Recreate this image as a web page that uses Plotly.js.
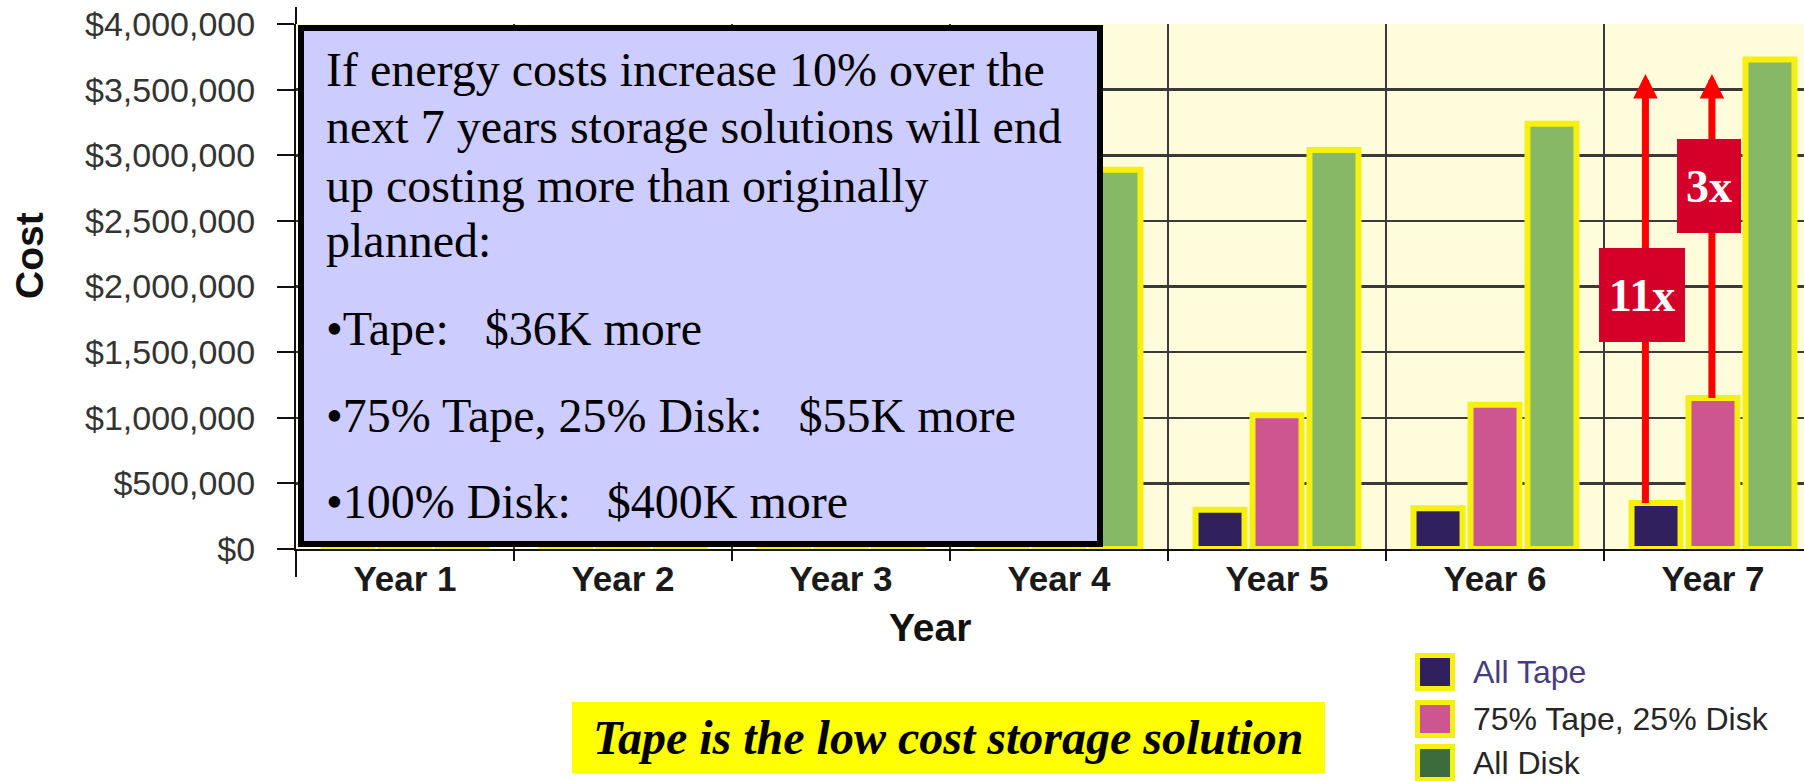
<!DOCTYPE html>
<html>
<head>
<meta charset="utf-8">
<script src="https://cdn.plot.ly/plotly-3.0.1.min.js"></script>
<style>
  html, body { margin: 0; padding: 0; background: #ffffff; }
  #chart { width: 1804px; height: 781px; }
</style>
</head>
<body>
<div id="chart"></div>
<script>
// ---------------- data ----------------
const years = ["Year 1", "Year 2", "Year 3", "Year 4", "Year 5", "Year 6", "Year 7"];
const seriesNames = ["All Tape", "75% Tape, 25% Disk", "All Disk"];
const allTape  = [205000, 225000, 250000, 275000, 300000, 310000, 350000];
const mixTape  = [790000, 860000, 920000, 965000, 1020000, 1100000, 1150000];
const allDisk  = [2350000, 2520000, 2700000, 2890000, 3040000, 3240000, 3730000];

const boxLines = [
  "If energy costs increase 10% over the",
  "next 7 years storage solutions will end",
  "up costing more than originally",
  "planned:",
  "\u2022Tape:\u00a0\u00a0\u00a0$36K more",
  "\u202275% Tape, 25% Disk:\u00a0\u00a0\u00a0$55K more",
  "\u2022100% Disk:\u00a0\u00a0\u00a0$400K more"
];
const calloutText = "Tape is the low cost storage solution";
const multiplierLabels = ["11x", "3x"];
const axisTitles = { x: "Year", y: "Cost" };

// ---------------- layout helpers ----------------
const W = 1804, H = 781;
const ML = 296, MR = 0, MT = 24, MB = 232;
const PW = W - ML - MR, PH = H - MT - MB;
const CAT_W = 218;
const px = x => (x - ML) / PW;
const py = y => (H - MB - y) / PH;

const barColors = ["#30205e", "#cd5690", "#86b865"];
const legendColors = ["#30205e", "#cd5690", "#3c6b3c"];
const outline = "#f5f00f";
const values = [allTape, mixTape, allDisk];

const traces = seriesNames.map((name, i) => ({
  type: "bar",
  name: name,
  x: years,
  y: values[i],
  marker: { color: barColors[i], line: { color: outline, width: 6 } },
  showlegend: false,
  hoverinfo: "skip"
}));

const shapes = [];
const annotations = [];

// extended y-axis line above and below the plot
shapes.push({ type: "line", xref: "paper", yref: "paper", x0: 0, x1: 0, y0: 1, y1: py(7), line: { color: "#111", width: 2 } });
shapes.push({ type: "line", xref: "paper", yref: "paper", x0: 0, x1: 0, y0: 0, y1: py(577), line: { color: "#111", width: 2 } });

// arrows (drawn first so label boxes cover them)
const lastIdx = years.length - 1;
const arrowTip = 3620000;
const arrowSpecs = [
  { x: lastIdx - 0.31, from: allTape[lastIdx] - 10000 },
  { x: lastIdx - 0.005, from: mixTape[lastIdx] - 10000 }
];
arrowSpecs.forEach(a => {
  annotations.push({
    xref: "x", yref: "y", axref: "x", ayref: "y",
    x: a.x, y: arrowTip, ax: a.x, ay: a.from,
    text: "", showarrow: true, arrowhead: 2, arrowsize: 0.7,
    arrowwidth: 7, arrowcolor: "#ff0000", standoff: 0, startstandoff: 0
  });
});

// red multiplier labels
const labelBoxes = [
  { cx: 1642, cy: 295, w: 86, h: 94 },
  { cx: 1709, cy: 186, w: 64, h: 94 }
];
multiplierLabels.forEach((t, i) => {
  const b = labelBoxes[i];
  annotations.push({
    xref: "paper", yref: "paper", x: px(b.cx), y: py(b.cy),
    xanchor: "center", yanchor: "middle",
    text: "<b>" + t + "</b>", showarrow: false,
    width: b.w, height: b.h, bgcolor: "#d50029", borderpad: 0, borderwidth: 0,
    font: { family: "Liberation Serif, Times New Roman, serif", size: 46, color: "#ffffff" }
  });
});

// big lavender text box
shapes.push({
  type: "rect", xref: "paper", yref: "paper", layer: "above",
  x0: px(301), x1: px(1100), y0: py(544), y1: py(28),
  fillcolor: "#ccccff", line: { color: "#000000", width: 6 }
});
const baselines = [86, 142, 201, 256, 345, 431, 517];
boxLines.forEach((t, i) => {
  annotations.push({
    xref: "paper", yref: "paper", x: px(324), y: py(baselines[i] - 16),
    xanchor: "left", yanchor: "middle", showarrow: false, text: t,
    font: { family: "Liberation Serif, Times New Roman, serif", size: 48, color: "#000000" }
  });
});

// yellow callout
shapes.push({
  type: "rect", xref: "paper", yref: "paper", layer: "above",
  x0: px(572), x1: px(1325), y0: py(773), y1: py(702),
  fillcolor: "#ffff00", line: { width: 0 }
});
annotations.push({
  xref: "paper", yref: "paper", x: px(948), y: py(738),
  xanchor: "center", yanchor: "middle", showarrow: false, text: calloutText,
  font: { family: "Liberation Serif, Times New Roman, serif", size: 48, color: "#000000", weight: "bold", style: "italic" }
});

// custom legend
const legendY = [672, 719, 763];
seriesNames.forEach((name, i) => {
  shapes.push({
    type: "rect", xref: "paper", yref: "paper", layer: "above",
    x0: px(1417.5), x1: px(1452.5), y0: py(legendY[i] + 16.5), y1: py(legendY[i] - 16.5),
    fillcolor: legendColors[i], line: { color: outline, width: 5 }
  });
  annotations.push({
    xref: "paper", yref: "paper", x: px(1471), y: py(legendY[i]),
    xanchor: "left", yanchor: "middle", showarrow: false, text: name,
    font: { family: "Liberation Sans, Arial, sans-serif", size: 32, color: i === 0 ? "#463c80" : "#262626" }
  });
});

// axis titles
annotations.push({
  xref: "paper", yref: "paper", x: px(930), y: py(627),
  xanchor: "center", yanchor: "middle", showarrow: false, text: "<b>" + axisTitles.x + "</b>",
  font: { family: "Liberation Sans, Arial, sans-serif", size: 39, color: "#111111" }
});
annotations.push({
  xref: "paper", yref: "paper", x: px(29), y: py(256),
  xanchor: "center", yanchor: "middle", showarrow: false, textangle: -90,
  text: "<b>" + axisTitles.y + "</b>",
  font: { family: "Liberation Sans, Arial, sans-serif", size: 39, color: "#111111" }
});

const layout = {
  width: W, height: H,
  margin: { l: ML, r: MR, t: MT, b: MB, pad: 0 },
  paper_bgcolor: "#ffffff",
  plot_bgcolor: "#fffcdc",
  barmode: "group",
  bargap: 0.216,
  bargroupgap: 0.14,
  font: { family: "Liberation Sans, Arial, sans-serif", color: "#222222" },
  xaxis: {
    type: "category",
    range: [-0.5, -0.5 + PW / CAT_W],
    tickson: "boundaries",
    ticks: "outside", ticklen: 10, tickwidth: 2, tickcolor: "#111",
    ticklabelstandoff: -2,
    showgrid: true, gridcolor: "#3a3a3a", gridwidth: 2.5,
    showline: true, linecolor: "#111", linewidth: 2,
    tickfont: { size: 35, color: "#1a1a1a", weight: "bold" },
    automargin: false, fixedrange: true
  },
  yaxis: {
    range: [0, 4000000],
    dtick: 500000,
    tickprefix: "$", tickformat: ",.0f",
    ticks: "outside", ticklen: 17, tickwidth: 2, tickcolor: "#111",
    ticklabelstandoff: 15,
    showgrid: true, gridcolor: "#3a3a3a", gridwidth: 2.5,
    zeroline: false,
    showline: true, linecolor: "#111", linewidth: 2,
    tickfont: { size: 34, color: "#333333" },
    automargin: false, fixedrange: true
  },
  shapes: shapes,
  annotations: annotations,
  showlegend: false
};

Plotly.newPlot("chart", traces, layout, { displayModeBar: false, staticPlot: true });
</script>
</body>
</html>
